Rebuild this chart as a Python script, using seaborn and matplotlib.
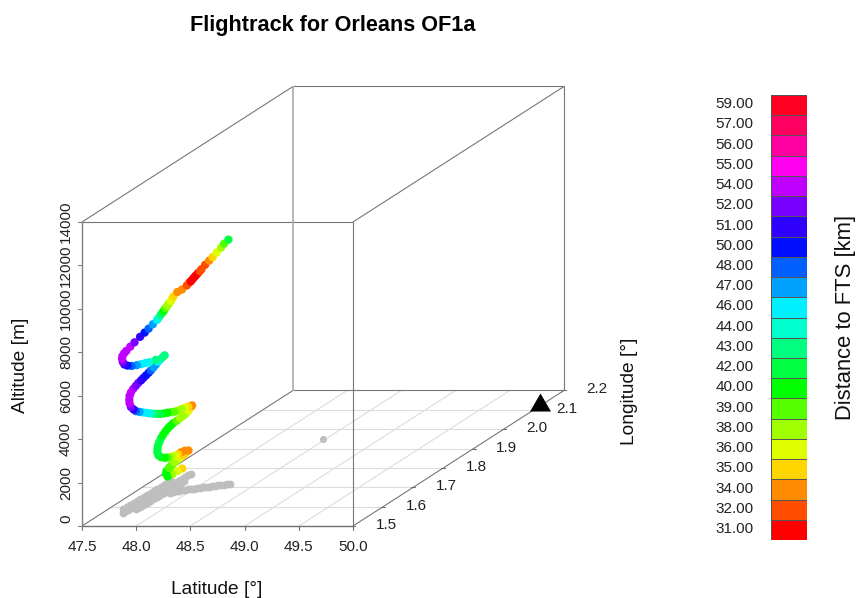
import numpy as np
import pandas as pd
import matplotlib
matplotlib.use("Agg")
import matplotlib.pyplot as plt
import seaborn as sns
from matplotlib.colors import ListedColormap

# flight track, bottom of the spiral first
track_lat = [47.710, 47.707, 47.703, 47.700, 47.699, 47.699, 47.701, 47.703, 47.705, 47.707, 47.709, 47.711, 47.713,
             47.715, 47.712, 47.709, 47.707, 47.705, 47.703, 47.700, 47.698, 47.695, 47.693, 47.692, 47.693, 47.693,
             47.694, 47.695, 47.697, 47.698, 47.700, 47.702, 47.704, 47.706, 47.709, 47.711, 47.713, 47.715, 47.717,
             47.717, 47.715, 47.712, 47.710, 47.707, 47.705, 47.702, 47.700, 47.697, 47.695, 47.692, 47.690, 47.687,
             47.685, 47.682, 47.680, 47.677, 47.675, 47.673, 47.672, 47.672, 47.672, 47.673, 47.675, 47.677, 47.679,
             47.681, 47.682, 47.684, 47.686, 47.688, 47.690, 47.691, 47.693, 47.695, 47.697, 47.698, 47.691, 47.687,
             47.684, 47.681, 47.678, 47.674, 47.671, 47.669, 47.668, 47.667, 47.667, 47.668, 47.670, 47.673, 47.676,
             47.680, 47.683, 47.686, 47.689, 47.692, 47.694, 47.695, 47.696, 47.697, 47.698, 47.700, 47.701, 47.702,
             47.703, 47.704, 47.707, 47.710, 47.714, 47.715, 47.716, 47.718, 47.719, 47.720, 47.722, 47.723, 47.724,
             47.727, 47.730, 47.732, 47.735, 47.738, 47.740, 47.744]
track_lon = [1.757, 1.742, 1.727, 1.712, 1.707, 1.709, 1.716, 1.724, 1.733, 1.741, 1.750, 1.761, 1.768,
             1.776, 1.765, 1.753, 1.744, 1.735, 1.724, 1.713, 1.703, 1.692, 1.684, 1.681, 1.681, 1.683,
             1.687, 1.692, 1.698, 1.706, 1.713, 1.721, 1.729, 1.740, 1.750, 1.760, 1.768, 1.776, 1.785,
             1.787, 1.775, 1.765, 1.755, 1.744, 1.733, 1.723, 1.712, 1.701, 1.690, 1.680, 1.669, 1.658,
             1.648, 1.637, 1.626, 1.615, 1.608, 1.600, 1.596, 1.595, 1.596, 1.600, 1.607, 1.615, 1.622,
             1.631, 1.638, 1.646, 1.654, 1.661, 1.669, 1.677, 1.683, 1.690, 1.698, 1.703, 1.676, 1.656,
             1.644, 1.631, 1.618, 1.602, 1.589, 1.580, 1.575, 1.573, 1.574, 1.579, 1.586, 1.598, 1.611,
             1.628, 1.642, 1.654, 1.667, 1.680, 1.686, 1.691, 1.697, 1.701, 1.706, 1.711, 1.716, 1.722,
             1.726, 1.730, 1.742, 1.756, 1.771, 1.778, 1.783, 1.788, 1.794, 1.799, 1.805, 1.811, 1.816,
             1.827, 1.839, 1.850, 1.862, 1.876, 1.885, 1.898]
track_alt = [355, 373, 368, 391, 562, 672, 751, 797, 852, 875, 912, 930, 976,
             1018, 1105, 1137, 1128, 1137, 1188, 1253, 1331, 1460, 1612, 1782, 1939, 2077,
             2206, 2326, 2431, 2524, 2597, 2643, 2689, 2703, 2731, 2754, 2795, 2846, 2947,
             2993, 3035, 3090, 3104, 3145, 3187, 3251, 3325, 3394, 3468, 3560, 3666, 3776,
             3891, 4011, 4131, 4269, 4407, 4591, 4794, 4964, 5135, 5259, 5360, 5429, 5498,
             5540, 5586, 5632, 5683, 5729, 5798, 5867, 5931, 5977, 6023, 6051, 6083, 6152,
             6217, 6286, 6355, 6461, 6594, 6723, 6884, 7046, 7165, 7244, 7299, 7386, 7469,
             7571, 7640, 7713, 7801, 7888, 7953, 8022, 8086, 8128, 8206, 8257, 8326, 8372,
             8450, 8519, 8616, 8607, 8662, 8726, 8740, 8791, 8842, 8878, 8929, 8966, 9012,
             9113, 9196, 9265, 9367, 9468, 9569, 9638]
track_dist = [35, 36, 38, 40, 40, 40, 39, 39, 38, 38, 36, 35, 35,
              34, 34, 34, 35, 36, 38, 39, 40, 40, 42, 42, 42, 42,
              42, 42, 40, 40, 40, 40, 40, 39, 38, 38, 38, 36, 35,
              34, 35, 36, 38, 38, 39, 39, 40, 40, 42, 42, 43, 44,
              46, 46, 47, 48, 51, 52, 54, 54, 54, 54, 54, 52, 52,
              51, 51, 50, 50, 48, 47, 47, 46, 44, 43, 43, 43, 44,
              46, 46, 47, 48, 50, 51, 52, 54, 54, 54, 54, 54, 52,
              51, 50, 48, 47, 46, 44, 43, 42, 40, 39, 38, 38, 36,
              36, 35, 34, 34, 32, 32, 31, 31, 31, 31, 31, 32, 32,
              32, 34, 35, 36, 38, 39, 42]

# ground projection of the track: long band, its two edges, the branch
ground_lat = [47.684, 47.687, 47.690, 47.692, 47.695, 47.698, 47.701, 47.704, 47.707, 47.710, 47.712, 47.715, 47.718,
              47.721, 47.724, 47.727, 47.729, 47.732, 47.735, 47.738, 47.741, 47.744, 47.746, 47.749, 47.752, 47.755,
              47.631, 47.635, 47.638, 47.642, 47.645, 47.649, 47.653, 47.656, 47.660, 47.663, 47.667, 47.670, 47.674,
              47.677, 47.681,
              47.751, 47.755, 47.758, 47.762, 47.765, 47.769, 47.773, 47.776, 47.780, 47.783, 47.787, 47.790, 47.794,
              47.797, 47.801,
              47.832, 47.851, 47.870, 47.890, 47.911, 47.931, 47.952, 47.973, 47.995, 48.018, 48.041, 48.061, 48.082,
              48.104, 48.127, 48.149, 48.171, 48.193, 48.216, 48.238, 48.260]
ground_lon = [1.569, 1.577, 1.585, 1.593, 1.601, 1.609, 1.617, 1.625, 1.633, 1.641, 1.649, 1.657, 1.665,
              1.673, 1.681, 1.689, 1.697, 1.705, 1.713, 1.721, 1.729, 1.737, 1.745, 1.753, 1.761, 1.770,
              1.590, 1.600, 1.610, 1.620, 1.630, 1.640, 1.650, 1.660, 1.670, 1.680, 1.690, 1.700, 1.710,
              1.720, 1.730,
              1.590, 1.600, 1.610, 1.620, 1.630, 1.640, 1.650, 1.660, 1.670, 1.680, 1.690, 1.700, 1.710,
              1.720, 1.730,
              1.673, 1.676, 1.679, 1.681, 1.684, 1.686, 1.689, 1.691, 1.693, 1.695, 1.697, 1.700, 1.702,
              1.704, 1.706, 1.708, 1.710, 1.712, 1.714, 1.716, 1.718]

lone_lat = [48.470]
lone_lon = [1.951]

fts_lat = [49.937]
fts_lon = [2.143]

levels = [31, 32, 34, 35, 36, 38, 39, 40, 42, 43, 44, 46, 47, 48, 50, 51, 52, 54, 55, 56, 57, 59]
level_colors = ['#FF0000', '#FF4D00', '#FF8C00', '#FFD500', '#DFFF00', '#A0FF00', '#55FF00', '#00FF00',
                '#00FF40', '#00FF80', '#00FFCC', '#00F0FF', '#00A0FF', '#0060FF', '#0010FF', '#3000FF',
                '#7800FF', '#C000FF', '#FF00F0', '#FF00A0', '#FF0060', '#FF0020']

lat_ticks = [47.5, 48.0, 48.5, 49.0, 49.5, 50.0]
lon_ticks = [1.5, 1.6, 1.7, 1.8, 1.9, 2.0, 2.1, 2.2]
alt_ticks = [0, 2000, 4000, 6000, 8000, 10000, 12000, 14000]


# same oblique view as scatterplot3d, everything ends up in figure pixels
def proj(lat, lon, alt=0):
    lat, lon, alt = np.asarray(lat), np.asarray(lon), np.asarray(alt)
    sx = 82 + (lat - 47.5) * 108.4 + (lon - 1.5) * 301.4
    sy = 526 - alt * 304 / 14000 - (lon - 1.5) * 193.6
    return sx, sy


sns.set_style("white")
plt.rcParams['font.family'] = ['Liberation Sans', 'DejaVu Sans']

fig = plt.figure(figsize=(8.6, 5.98), dpi=100)
ax = fig.add_axes([0, 0, 1, 1])
ax.set_xlim(0, 860)
ax.set_ylim(598, 0)
ax.axis('off')

GRID = '#DDDDDD'
BOX = '#777777'


def seg(a, b, color=BOX, lw=0.8, z=1):
    xs, ys = proj([a[0], b[0]], [a[1], b[1]], [a[2], b[2]])
    ax.plot(xs, ys, color=color, lw=lw, zorder=z, solid_capstyle='butt')


# floor grid
for la in lat_ticks[1:-1]:
    seg((la, 1.5, 0), (la, 2.2, 0), GRID)
for lo in lon_ticks[1:-1]:
    seg((47.5, lo, 0), (50.0, lo, 0), GRID)

# box
for a, b in [((47.5, 2.2, 0), (50.0, 2.2, 0)), ((47.5, 2.2, 14000), (50.0, 2.2, 14000)),
             ((50.0, 2.2, 0), (50.0, 2.2, 14000)),
             ((47.5, 1.5, 14000), (50.0, 1.5, 14000)), ((50.0, 1.5, 0), (50.0, 1.5, 14000)),
             ((47.5, 1.5, 14000), (47.5, 2.2, 14000)), ((50.0, 1.5, 14000), (50.0, 2.2, 14000)),
             ((47.5, 1.5, 0), (47.5, 2.2, 0)), ((50.0, 1.5, 0), (50.0, 2.2, 0))]:
    seg(a, b)
seg((47.5, 2.2, 0), (47.5, 2.2, 14000), '#AAAAAA', 1.2)
seg((47.5, 1.5, 0), (50.0, 1.5, 0), '#707070', 1.0, 2)
seg((47.5, 1.5, 0), (47.5, 1.5, 14000), '#808080', 1.0, 2)

# ticks and labels
tick_fs = 11
for la in lat_ticks:
    x, y = proj(la, 1.5)
    ax.plot([x, x], [y, y + 4], color='#707070', lw=0.8)
    ax.text(x, 547, f'{la:.1f}', ha='center', va='center', fontsize=tick_fs, color='#222222')
for lo in lon_ticks:
    x, y = proj(50.0, lo)
    ax.plot([x - 2, x + 2], [y, y], color='#707070', lw=0.8)
    ax.text(x + 33, y - 1, f'{lo:.1f}', ha='center', va='center', fontsize=tick_fs, color='#222222')
for al in alt_ticks:
    x, y = proj(47.5, 1.5, al)
    ax.plot([x - 4, x], [y, y], color='#808080', lw=0.8)
    ax.text(66, y - 7 if al == 0 else y, str(al), ha='center', va='center', rotation=90,
            fontsize=tick_fs, color='#222222')

# ground track, then the FTS site, then the coloured flight
gx, gy = proj(ground_lat, ground_lon)
ground = pd.DataFrame({'x': gx, 'y': gy})
sns.scatterplot(data=ground, x='x', y='y', color='#BEBEBE', s=32, linewidth=0, ax=ax, zorder=3)

lx, ly = proj(lone_lat, lone_lon)
sns.scatterplot(x=lx, y=ly, color='#BEBEBE', s=26, linewidth=0, ax=ax, zorder=3)

fx, fy = proj(fts_lat, fts_lon)
sns.scatterplot(x=fx, y=fy, color='black', s=229, linewidth=0, ax=ax, zorder=4,
                marker=[(0, 0.86), (-1, -0.86), (1, -0.86)])

tx, ty = proj(track_lat, track_lon, track_alt)
flight = pd.DataFrame({'x': tx, 'y': ty, 'dist': track_dist})
sns.scatterplot(data=flight, x='x', y='y', hue='dist', palette=dict(zip(levels, level_colors)),
                s=36, linewidth=0, legend=False, ax=ax, zorder=5)
ax.set_xlabel('')
ax.set_ylabel('')

ax.text(333, 26, 'Flightrack for Orleans OF1a', ha='center', va='center', fontsize=15.6, fontweight='bold',
        color='black')
ax.text(217, 590, 'Latitude [°]', ha='center', va='center', fontsize=13.8, color='#111111')
ax.text(21, 365, 'Altitude [m]', ha='center', va='center', rotation=90, fontsize=13.8, color='#111111')
ax.text(629, 391, 'Longitude [°]', ha='center', va='center', rotation=90, fontsize=13.8, color='#111111')
ax.text(846, 317, 'Distance to FTS [km]', ha='center', va='center', rotation=90, fontsize=15.8, color='#111111')

# colour key
cax = fig.add_axes([771 / 860, 1 - 540 / 598, 36 / 860, 445 / 598])
key = np.arange(len(levels))[::-1].reshape(-1, 1)
sns.heatmap(key, cmap=ListedColormap(level_colors), cbar=False, linewidths=0.5, linecolor='#555555',
            xticklabels=False, yticklabels=False, ax=cax)
cax.set_yticks(np.arange(len(levels)) + 0.38, [f'{v:.2f}' for v in levels[::-1]], rotation=0)
cax.tick_params(left=False, pad=9, labelsize=tick_fs, labelcolor='#222222')

fig.savefig('out.png', dpi=100)
